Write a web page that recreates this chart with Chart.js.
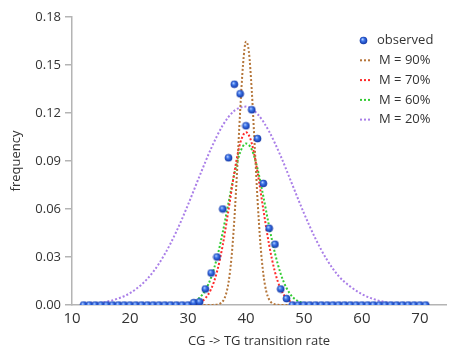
<!DOCTYPE html>
<html>
<head>
<meta charset="utf-8">
<script src="https://cdn.jsdelivr.net/npm/chart.js@4/dist/chart.umd.min.js"></script>
<style>
  html, body { margin: 0; padding: 0; background: #fff; }
  #wrap { width: 451px; height: 354px; }
</style>
</head>
<body>
<div id="wrap"><canvas id="c" width="451" height="354"></canvas></div>
<script>
// ---- data ----
const xObserved = [12,13,14,15,16,17,18,19,20,21,22,23,24,25,26,27,28,29,30,31,32,33,34,35,36,37,38,39,40,41,42,43,44,45,46,47,48,49,50,51,52,53,54,55,56,57,58,59,60,61,62,63,64,65,66,67,68,69,70,71];
const yObserved = [0,0,0,0,0,0,0,0,0,0,0,0,0,0,0,0,0,0,0,0.0015,0.002,0.010,0.020,0.030,0.060,0.092,0.138,0.132,0.112,0.122,0.104,0.076,0.048,0.038,0.010,0.004,0,0,0,0,0,0,0,0,0,0,0,0,0,0,0,0,0,0,0,0,0,0,0,0];

const xM90 = [12,33,34,34.5,35,35.5,36,36.5,37,37.5,38,38.5,39,39.5,40,40.5,41,41.5,42,42.5,43,43.5,44,44.5,45,45.5,46,48,71];
const yM90 = [0,0,0,0.0001,0.0002,0.0008,0.0023,0.0061,0.0142,0.0294,0.0536,0.0859,0.1212,0.1505,0.1646,0.1584,0.1342,0.1001,0.0657,0.0380,0.0193,0.0086,0.0034,0.0012,0.0004,0.0001,0,0,0];

const xM70 = [12,30,31,32,33,34,35,36,37,38,39,40,41,42,43,44,45,46,47,48,49,51,71];
const yM70 = [0,0,0.0005,0.0016,0.0042,0.0100,0.0207,0.0375,0.0596,0.0829,0.1011,0.1080,0.1011,0.0829,0.0596,0.0375,0.0207,0.0100,0.0042,0.0016,0.0005,0,0];

const xM60 = [12,29,30,31,32,33,34,35,36,37,38,39,40,41,42,43,44,45,46,47,48,49,50,52,71];
const yM60 = [0,0,0.0008,0.0020,0.0045,0.0093,0.0173,0.0294,0.0455,0.0640,0.0820,0.0954,0.1009,0.0972,0.0851,0.0678,0.0491,0.0324,0.0194,0.0106,0.0052,0.0024,0.0010,0,0];

const xM20 = [12,14,16,18,20,22,24,26,28,30,32,34,36,38,40,42,44,46,48,50,52,54,56,58,60,62,64,66,68,71];
const yM20 = [0.0004,0.0010,0.0021,0.0041,0.0074,0.0128,0.0207,0.0318,0.0459,0.0626,0.0806,0.0979,0.1123,0.1214,0.1240,0.1193,0.1084,0.0930,0.0752,0.0574,0.0414,0.0281,0.0180,0.0115,0.0068,0.0037,0.0018,0.0008,0.0003,0];

const seriesLabels = ['observed','M = 90%','M = 70%','M = 60%','M = 20%'];
const yTicks = [0,0.03,0.06,0.09,0.12,0.15,0.18];
const xTicks = [10,20,30,40,50,60,70];

// ---- styling helpers ----
const FONT = "'Open Sans', 'DejaVu Sans', sans-serif";
const TEXT = '#333333';
const AXIS = '#b4b4b4';

function ballImage() {
  const s = 9, c = document.createElement('canvas');
  c.width = s; c.height = s;
  const g = c.getContext('2d');
  const grad = g.createRadialGradient(3.4, 3.2, 0.3, 4.5, 4.5, 4);
  grad.addColorStop(0, '#b9d3ff');
  grad.addColorStop(0.35, '#3f78ec');
  grad.addColorStop(1, '#0d2f9e');
  g.fillStyle = grad;
  g.beginPath(); g.arc(4.5, 4.5, 3.8, 0, Math.PI * 2); g.fill();
  return c;
}
const ball = ballImage();

const pts = (xs, ys) => xs.map((x, i) => ({x: x, y: ys[i]}));
const curve = (label, xs, ys, color, order) => ({
  label, data: pts(xs, ys), borderColor: color, backgroundColor: color,
  borderWidth: 2, borderDash: [2, 2], pointRadius: 0, fill: false,
  cubicInterpolationMode: 'monotone', order
});

const datasets = [
  { label: seriesLabels[0], data: pts(xObserved, yObserved), showLine: false,
    pointStyle: ball, pointRadius: 4, order: 0 },
  curve(seriesLabels[1], xM90, yM90, '#b5763a', 1),
  curve(seriesLabels[2], xM70, yM70, '#ff2a2a', 2),
  curve(seriesLabels[3], xM60, yM60, '#33cc33', 3),
  curve(seriesLabels[4], xM20, yM20, '#aa7fe8', 4)
];

const insideLegend = {
  id: 'insideLegend',
  afterDraw(chart) {
    const ctx = chart.ctx;
    ctx.save();
    ctx.font = "13px " + FONT;
    ctx.fillStyle = TEXT;
    ctx.textBaseline = 'middle';
    const rowY = [40.5, 60.3, 80.1, 99.9, 119.6];
    chart.data.datasets.forEach((ds, i) => {
      const y = rowY[i];
      if (i === 0) {
        ctx.drawImage(ball, 363.5 - 4.5, y - 4.5);
        ctx.fillStyle = TEXT;
        ctx.fillText(ds.label, 377, y);
      } else {
        ctx.strokeStyle = ds.borderColor;
        ctx.lineWidth = 2;
        ctx.setLineDash([2, 2]);
        ctx.beginPath(); ctx.moveTo(360, y); ctx.lineTo(372, y); ctx.stroke();
        ctx.setLineDash([]);
        ctx.fillStyle = TEXT;
        ctx.fillText(ds.label, 379, y);
      }
    });
    ctx.restore();
  }
};

new Chart(document.getElementById('c'), {
  type: 'line',
  data: { datasets },
  plugins: [insideLegend],
  options: {
    responsive: false,
    animation: false,
    layout: { padding: { top: 17, right: 1, left: 0, bottom: 0 } },
    plugins: { legend: { display: false }, tooltip: { enabled: false } },
    scales: {
      x: {
        type: 'linear', min: 10, max: 74.5,
        afterBuildTicks: (s) => { s.ticks = xTicks.map(v => ({value: v})); },
        afterFit: (s) => { s.height = 49; },
        ticks: { color: TEXT, font: { family: FONT, size: 15 }, padding: 5, maxRotation: 0 },
        grid: { display: true, drawOnChartArea: false, drawTicks: false, color: AXIS },
        border: { color: AXIS, width: 1.5 },
        title: { display: true, text: 'CG -> TG transition rate', color: TEXT,
                 font: { family: FONT, size: 13 }, padding: { top: 0, bottom: 5 } }
      },
      y: {
        min: 0, max: 0.18,
        afterBuildTicks: (s) => { s.ticks = yTicks.map(v => ({value: v})); },
        afterFit: (s) => { s.width = 72; },
        ticks: { color: TEXT, font: { family: FONT, size: 13 }, padding: 4,
                 callback: (v) => Number(v).toFixed(2) },
        grid: { display: true, drawOnChartArea: false, drawTicks: true, tickLength: 7,
                color: AXIS, lineWidth: 1.5 },
        border: { color: AXIS, width: 1.5 },
        title: { display: true, text: 'frequency', color: TEXT,
                 font: { family: FONT, size: 13 }, padding: { top: 8, bottom: 0 } }
      }
    }
  }
});
</script>
</body>
</html>
